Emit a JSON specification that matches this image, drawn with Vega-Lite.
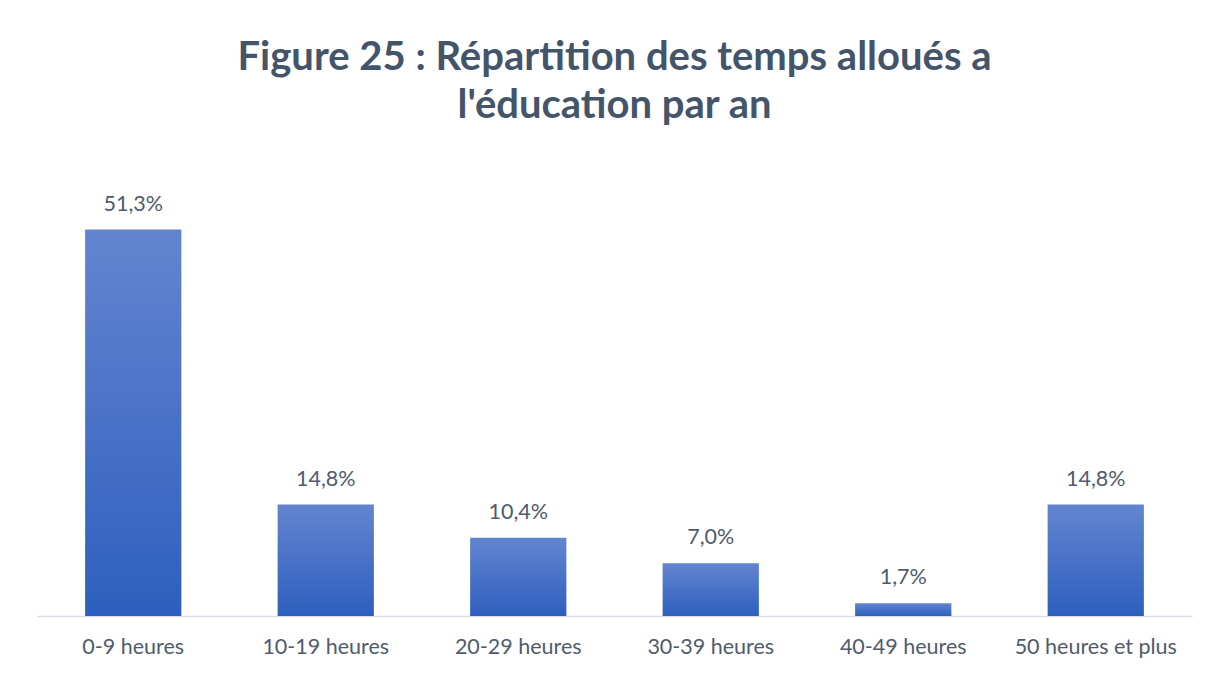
{
  "$schema": "https://vega.github.io/schema/vega-lite/v6.json",
  "autosize": "none",
  "width": 1155,
  "height": 452,
  "padding": {"left": 37, "top": 164, "right": 26, "bottom": 57},
  "background": "white",
  "title": {
    "text": ["Figure 25 : Répartition des temps alloués a", "l'éducation par an"],
    "font": "Lato",
    "fontSize": 40,
    "fontWeight": "bold",
    "color": "#44546A",
    "lineHeight": 48,
    "anchor": "middle",
    "offset": 38
  },
  "data": {
    "values": [
      {"cat": "0-9 heures", "pct": 51.3, "label": "51,3%"},
      {"cat": "10-19 heures", "pct": 14.8, "label": "14,8%"},
      {"cat": "20-29 heures", "pct": 10.4, "label": "10,4%"},
      {"cat": "30-39 heures", "pct": 7.0, "label": "7,0%"},
      {"cat": "40-49 heures", "pct": 1.7, "label": "1,7%"},
      {"cat": "50 heures et plus", "pct": 14.8, "label": "14,8%"}
    ]
  },
  "encoding": {
    "x": {
      "field": "cat",
      "type": "nominal",
      "sort": null,
      "scale": {"paddingInner": 0.5, "paddingOuter": 0.25},
      "axis": {
        "title": null,
        "labelAngle": 0,
        "labelFont": "Lato",
        "labelFontSize": 21.5,
        "labelColor": "#505B6E",
        "labelPadding": 20,
        "ticks": false,
        "domainColor": "#D9DEE5",
        "domainWidth": 1.5
      }
    },
    "y": {
      "field": "pct",
      "type": "quantitative",
      "scale": {"domain": [0, 60]},
      "axis": null
    }
  },
  "layer": [
    {
      "mark": {
        "type": "bar",
        "color": {
          "gradient": "linear",
          "x1": 0, "y1": 0, "x2": 0, "y2": 1,
          "stops": [
            {"offset": 0, "color": "#6385D0"},
            {"offset": 1, "color": "#2E5FBE"}
          ]
        }
      }
    },
    {
      "mark": {
        "type": "text",
        "font": "Lato",
        "fontSize": 21.5,
        "color": "#505B6E",
        "baseline": "middle",
        "dy": -25
      },
      "encoding": {"text": {"field": "label"}}
    }
  ],
  "config": {"view": {"stroke": null}}
}
